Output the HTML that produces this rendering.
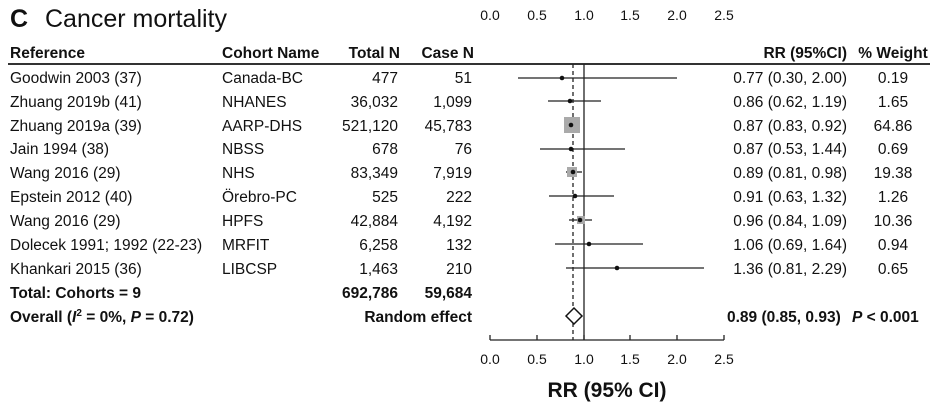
<!DOCTYPE html>
<html><head><meta charset="utf-8"><style>
html,body{margin:0;padding:0;background:#fff;}
svg{display:block;font-family:"Liberation Sans",sans-serif;}
</style></head><body>
<svg width="939" height="410" viewBox="0 0 939 410" xmlns="http://www.w3.org/2000/svg">
<g fill="#111">
<text x="10" y="27" font-size="25" font-weight="bold">C</text>
<text x="45" y="27" font-size="25">Cancer mortality</text>
<g font-size="14" text-anchor="middle">
<text x="490" y="20">0.0</text><text x="537" y="20">0.5</text><text x="584" y="20">1.0</text>
<text x="630" y="20">1.5</text><text x="677" y="20">2.0</text><text x="724" y="20">2.5</text>
</g>
<g font-size="15.5" font-weight="bold">
<text x="10" y="58">Reference</text>
<text x="222" y="58">Cohort Name</text>
<text x="400" y="58" text-anchor="end">Total N</text>
<text x="474" y="58" text-anchor="end">Case N</text>
<text x="847" y="58" text-anchor="end">RR (95%CI)</text>
<text x="893" y="58" text-anchor="middle">% Weight</text>
</g>
</g>
<line x1="8" y1="64" x2="930" y2="64" stroke="#333" stroke-width="2"/>
<g font-size="15.5" fill="#111">
<g transform="translate(0,83)"><text x="10">Goodwin 2003 (37)</text><text x="222">Canada-BC</text><text x="398" text-anchor="end">477</text><text x="472" text-anchor="end">51</text><text x="847" text-anchor="end">0.77 (0.30, 2.00)</text><text x="893" text-anchor="middle">0.19</text></g>
<g transform="translate(0,107)"><text x="10">Zhuang 2019b (41)</text><text x="222">NHANES</text><text x="398" text-anchor="end">36,032</text><text x="472" text-anchor="end">1,099</text><text x="847" text-anchor="end">0.86 (0.62, 1.19)</text><text x="893" text-anchor="middle">1.65</text></g>
<g transform="translate(0,131)"><text x="10">Zhuang 2019a (39)</text><text x="222">AARP-DHS</text><text x="398" text-anchor="end">521,120</text><text x="472" text-anchor="end">45,783</text><text x="847" text-anchor="end">0.87 (0.83, 0.92)</text><text x="893" text-anchor="middle">64.86</text></g>
<g transform="translate(0,154)"><text x="10">Jain 1994 (38)</text><text x="222">NBSS</text><text x="398" text-anchor="end">678</text><text x="472" text-anchor="end">76</text><text x="847" text-anchor="end">0.87 (0.53, 1.44)</text><text x="893" text-anchor="middle">0.69</text></g>
<g transform="translate(0,178)"><text x="10">Wang 2016 (29)</text><text x="222">NHS</text><text x="398" text-anchor="end">83,349</text><text x="472" text-anchor="end">7,919</text><text x="847" text-anchor="end">0.89 (0.81, 0.98)</text><text x="893" text-anchor="middle">19.38</text></g>
<g transform="translate(0,202)"><text x="10">Epstein 2012 (40)</text><text x="222">Örebro-PC</text><text x="398" text-anchor="end">525</text><text x="472" text-anchor="end">222</text><text x="847" text-anchor="end">0.91 (0.63, 1.32)</text><text x="893" text-anchor="middle">1.26</text></g>
<g transform="translate(0,226)"><text x="10">Wang 2016 (29)</text><text x="222">HPFS</text><text x="398" text-anchor="end">42,884</text><text x="472" text-anchor="end">4,192</text><text x="847" text-anchor="end">0.96 (0.84, 1.09)</text><text x="893" text-anchor="middle">10.36</text></g>
<g transform="translate(0,250)"><text x="10">Dolecek 1991; 1992 (22-23)</text><text x="222">MRFIT</text><text x="398" text-anchor="end">6,258</text><text x="472" text-anchor="end">132</text><text x="847" text-anchor="end">1.06 (0.69, 1.64)</text><text x="893" text-anchor="middle">0.94</text></g>
<g transform="translate(0,274)"><text x="10">Khankari 2015 (36)</text><text x="222">LIBCSP</text><text x="398" text-anchor="end">1,463</text><text x="472" text-anchor="end">210</text><text x="847" text-anchor="end">1.36 (0.81, 2.29)</text><text x="893" text-anchor="middle">0.65</text></g>
<g transform="translate(0,298)" font-weight="bold"><text x="10">Total: Cohorts = 9</text><text x="398" text-anchor="end">692,786</text><text x="472" text-anchor="end">59,684</text></g>
<g transform="translate(0,322)" font-weight="bold"><text x="10">Overall (<tspan font-style="italic">I</tspan><tspan font-size="10" dy="-6">2</tspan><tspan dy="6"> = 0%, </tspan><tspan font-style="italic">P</tspan> = 0.72)</text><text x="472" text-anchor="end">Random effect</text><text x="727">0.89 (0.85, 0.93)</text><text x="852"><tspan font-style="italic">P</tspan> &lt; 0.001</text></g>
</g>
<g stroke="#222" stroke-width="1.3">
<line x1="584" y1="64" x2="584" y2="340"/>
<line x1="573" y1="64" x2="573" y2="340" stroke-dasharray="4,3"/>
<line x1="490" y1="340" x2="724" y2="340"/>
<line x1="490" y1="340" x2="490" y2="335"/><line x1="537" y1="340" x2="537" y2="335"/><line x1="584" y1="340" x2="584" y2="335"/><line x1="630" y1="340" x2="630" y2="335"/><line x1="677" y1="340" x2="677" y2="335"/><line x1="724" y1="340" x2="724" y2="335"/>
<line x1="518" y1="78" x2="677" y2="78"/>
<line x1="548" y1="101" x2="601" y2="101"/>
<line x1="568" y1="125" x2="576" y2="125"/>
<line x1="540" y1="149" x2="625" y2="149"/>
<line x1="566" y1="172" x2="582" y2="172"/>
<line x1="549" y1="196" x2="614" y2="196"/>
<line x1="569" y1="220" x2="592" y2="220"/>
<line x1="555" y1="244" x2="643" y2="244"/>
<line x1="566" y1="268" x2="704" y2="268"/>
</g>
<g fill="#aaa">
<rect x="564" y="117" width="16" height="16"/>
<rect x="567" y="167" width="10" height="10"/>
<rect x="577" y="216" width="8" height="8"/>
</g>
<g fill="#111">
<circle cx="562" cy="78" r="2.3"/><circle cx="570" cy="101" r="2.3"/><circle cx="571" cy="125" r="2.3"/><circle cx="571" cy="149" r="2.3"/><circle cx="573" cy="172" r="2.3"/><circle cx="575" cy="196" r="2.3"/><circle cx="580" cy="220" r="2.3"/><circle cx="589" cy="244" r="2.3"/><circle cx="617" cy="268" r="2.3"/>
</g>
<polygon points="566,316 574,308 582,316 574,324" fill="#fff" stroke="#111" stroke-width="1.5"/>
<g font-size="14" text-anchor="middle" fill="#111">
<text x="490" y="364">0.0</text><text x="537" y="364">0.5</text><text x="584" y="364">1.0</text>
<text x="630" y="364">1.5</text><text x="677" y="364">2.0</text><text x="724" y="364">2.5</text>
<text x="607" y="397" font-size="21" font-weight="bold">RR (95% CI)</text>
</g>
</svg>
</body></html>
